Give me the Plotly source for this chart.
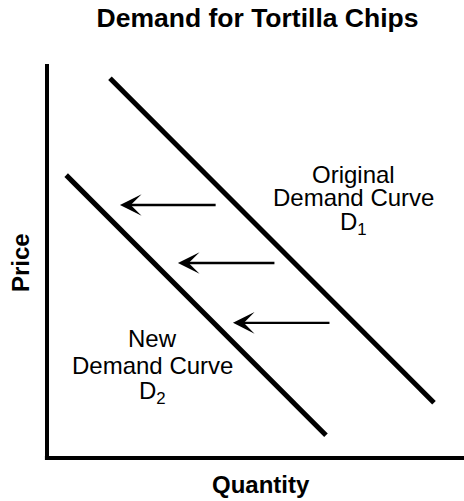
import plotly.graph_objects as go

# Curve end points (quantity, price) on a 0-10 scale
d1_quantity = [1.51, 9.28]
d1_price = [9.64, 1.40]
d2_quantity = [0.46, 6.69]
d2_price = [7.18, 0.58]

# Leftward shift arrows: price level, start quantity (tail), end quantity (tip)
arrow_price = [6.42, 4.95, 3.43]
arrow_from_q = [4.08, 5.49, 6.81]
arrow_to_q = [1.75, 3.14, 4.46]

title_text = "Demand for Tortilla Chips"
x_title = "Quantity"
y_title = "Price"
d1_label = ["Original", "Demand Curve", "D<sub>1</sub>"]
d2_label = ["New", "Demand Curve", "D<sub>2</sub>"]

FONT = "Arial, 'Liberation Sans', Helvetica, sans-serif"

fig = go.Figure()
fig.add_trace(go.Scatter(x=d1_quantity, y=d1_price, mode="lines",
                         line=dict(color="black", width=5), hoverinfo="skip"))
fig.add_trace(go.Scatter(x=d2_quantity, y=d2_price, mode="lines",
                         line=dict(color="black", width=5), hoverinfo="skip"))

annotations = []
for p, q0, q1 in zip(arrow_price, arrow_from_q, arrow_to_q):
    annotations.append(dict(x=q1, y=p, ax=q0, ay=p, xref="x", yref="y",
                            axref="x", ayref="y", text="", showarrow=True,
                            arrowhead=3, arrowsize=1.5, arrowwidth=2.4,
                            arrowcolor="black", standoff=0))

# Curve labels (one annotation per line for tight line spacing)
d1_label_y = [7.2, 6.6, 5.95]
for txt, yy in zip(d1_label, d1_label_y):
    annotations.append(dict(x=7.34, y=yy, xref="x", yref="y", text=txt,
                            showarrow=False, xanchor="center", yanchor="middle",
                            font=dict(family=FONT, size=24, color="black")))
d2_label_y = [3.03, 2.35, 1.67]
for txt, yy in zip(d2_label, d2_label_y):
    annotations.append(dict(x=2.53, y=yy, xref="x", yref="y", text=txt,
                            showarrow=False, xanchor="center", yanchor="middle",
                            font=dict(family=FONT, size=24, color="black")))

annotations.append(dict(x=-0.065, y=0.497, xref="paper", yref="paper",
                        text="<b>%s</b>" % y_title, textangle=-90, showarrow=False,
                        xanchor="center", yanchor="middle",
                        font=dict(family=FONT, size=24, color="black")))
annotations.append(dict(x=0.513, y=-0.068, xref="paper", yref="paper",
                        text="<b>%s</b>" % x_title, showarrow=False,
                        xanchor="center", yanchor="middle",
                        font=dict(family=FONT, size=24, color="black")))

fig.update_layout(
    width=464, height=501,
    margin=dict(l=47, r=0, t=64, b=43),
    paper_bgcolor="white", plot_bgcolor="white",
    showlegend=False,
    title=dict(text="<b>%s</b>" % title_text, x=0.555, xanchor="center",
               y=0.964, yanchor="middle", xref="container", yref="container",
               font=dict(family=FONT, size=26.5, color="black")),
    xaxis=dict(range=[0, 10], showgrid=False, zeroline=False, showticklabels=False,
               ticks="", showline=False, fixedrange=True),
    yaxis=dict(range=[0, 10], showgrid=False, zeroline=False, showticklabels=False,
               ticks="", showline=False, fixedrange=True),
    annotations=annotations,
    shapes=[
        dict(type="line", xref="paper", yref="paper", x0=0, y0=0, x1=0, y1=1,
             line=dict(color="black", width=4)),
        dict(type="line", xref="paper", yref="paper", x0=-0.005, y0=0, x1=1, y1=0,
             line=dict(color="black", width=4)),
    ],
)

fig.write_html("out.html", config={"displayModeBar": False},
               post_script="document.body.style.margin='0';document.body.style.overflow='hidden';")
